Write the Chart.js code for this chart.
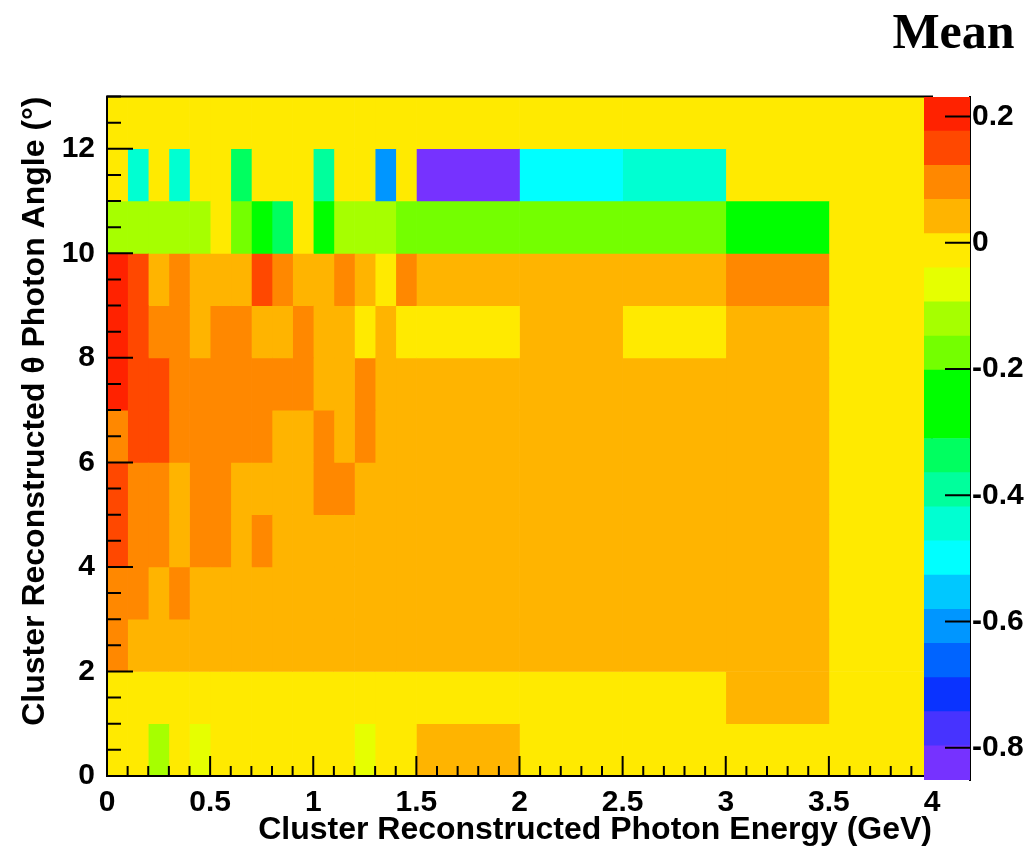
<!DOCTYPE html>
<html>
<head>
<meta charset="utf-8">
<script src="https://cdn.jsdelivr.net/npm/chart.js@4.4.0/dist/chart.umd.min.js"></script>
<style>
  html, body { margin: 0; padding: 0; background: #fff; }
  #wrap { position: relative; width: 1035px; height: 846px; }
  #heat { position: absolute; left: 0; top: 0; }
  #palette { position: absolute; left: 872px; top: 0; }
</style>
</head>
<body>
<div id="wrap">
  <canvas id="heat" width="1035" height="846"></canvas>
  <canvas id="palette" width="163" height="846"></canvas>
</div>
<script>
// bin edges (GeV and degrees)
const energyEdges = [0, 0.1, 0.2, 0.3, 0.4, 0.5, 0.6, 0.7, 0.8, 0.9, 1.0, 1.1, 1.2, 1.3, 1.4, 1.5, 2.0, 2.5, 3.0, 3.5, 4.0];
const angleEdges = [0, 1, 2, 3, 4, 5, 6, 7, 8, 9, 10, 11, 12, 13];

// mean per cell, one row per angle bin (bottom row first)
const meanByAngle = [
  [0, 0, -0.12, 0, -0.07, 0, 0, 0, 0, 0, 0, 0, -0.07, 0, 0, 0.04, 0, 0, 0, 0],
  [0, 0, 0, 0, 0, 0, 0, 0, 0, 0, 0, 0, 0, 0, 0, 0, 0, 0, 0.04, 0],
  [0.1, 0.04, 0.04, 0.04, 0.04, 0.04, 0.04, 0.04, 0.04, 0.04, 0.04, 0.04, 0.04, 0.04, 0.04, 0.04, 0.04, 0.04, 0.04, 0],
  [0.1, 0.1, 0.04, 0.1, 0.04, 0.04, 0.04, 0.04, 0.04, 0.04, 0.04, 0.04, 0.04, 0.04, 0.04, 0.04, 0.04, 0.04, 0.04, 0],
  [0.15, 0.1, 0.1, 0.04, 0.1, 0.1, 0.04, 0.1, 0.04, 0.04, 0.04, 0.04, 0.04, 0.04, 0.04, 0.04, 0.04, 0.04, 0.04, 0],
  [0.15, 0.1, 0.1, 0.04, 0.1, 0.1, 0.04, 0.04, 0.04, 0.04, 0.1, 0.1, 0.04, 0.04, 0.04, 0.04, 0.04, 0.04, 0.04, 0],
  [0.1, 0.15, 0.15, 0.1, 0.1, 0.1, 0.1, 0.1, 0.04, 0.04, 0.1, 0.04, 0.1, 0.04, 0.04, 0.04, 0.04, 0.04, 0.04, 0],
  [0.2, 0.15, 0.15, 0.1, 0.1, 0.1, 0.1, 0.1, 0.1, 0.1, 0.04, 0.04, 0.1, 0.04, 0.04, 0.04, 0.04, 0.04, 0.04, 0],
  [0.2, 0.15, 0.1, 0.1, 0.04, 0.1, 0.1, 0.04, 0.04, 0.1, 0.04, 0.04, 0, 0.04, 0, 0, 0.04, 0, 0.04, 0],
  [0.2, 0.15, 0.04, 0.1, 0.04, 0.04, 0.04, 0.15, 0.1, 0.04, 0.04, 0.1, 0.04, 0, 0.1, 0.04, 0.04, 0.04, 0.1, 0],
  [-0.12, -0.12, -0.12, -0.12, -0.12, 0, -0.17, -0.25, -0.34, 0, -0.25, -0.12, -0.12, -0.12, -0.17, -0.17, -0.17, -0.17, -0.25, 0],
  [0, -0.45, 0, -0.45, 0, 0, -0.34, 0, 0, 0, -0.39, 0, 0, -0.61, 0, -0.82, -0.5, -0.45, 0, 0],
  [0, 0, 0, 0, 0, 0, 0, 0, 0, 0, 0, 0, 0, 0, 0, 0, 0, 0, 0, 0]
];

const energyTicks = [0, 0.5, 1, 1.5, 2, 2.5, 3, 3.5, 4];
const angleTicks = [0, 2, 4, 6, 8, 10, 12];

// colour scale (20 contours)
const zMin = -0.851;
const zMax = 0.231;
const paletteTicks = [-0.8, -0.6, -0.4, -0.2, 0, 0.2];
const paletteColors = [
  "#7632ff", "#4733ff", "#0a33ff", "#0064ff", "#0096ff",
  "#00c8ff", "#00ffff", "#00ffd2", "#00ff9c", "#00ff60",
  "#00ff00", "#00ff00", "#74ff00", "#a6ff00", "#e6ff00",
  "#ffea00", "#ffb400", "#ff8800", "#ff4800", "#ff2200"
];

const zStep = (zMax - zMin) / paletteColors.length;

function colorFor(v) {
  let i = Math.floor((v - zMin) / zStep);
  if (i < 0) i = 0;
  if (i > paletteColors.length - 1) i = paletteColors.length - 1;
  return paletteColors[i];
}

const sansBold = (size) => ({ family: "'Liberation Sans', Arial, sans-serif", size: size, weight: "bold" });

const columns = energyEdges.slice(0, -1).map((lo, ci) => ({
  data: meanByAngle.map((row, ri) => ({
    x: [lo, energyEdges[ci + 1]],
    y: (angleEdges[ri] + angleEdges[ri + 1]) / 2,
    v: row[ci]
  })),
  backgroundColor: (c) => colorFor(c.raw.v),
  borderWidth: 0,
  grouped: false,
  barPercentage: 1,
  categoryPercentage: 1
}));

// ROOT-like frame with ticks pointing inward
const rootFrame = {
  id: "rootFrame",
  afterDatasetsDraw(chart) {
    const { ctx, chartArea: a, scales } = chart;
    const x = scales.x, y = scales.y;
    ctx.save();
    ctx.strokeStyle = "#000";
    ctx.lineWidth = 2;
    ctx.beginPath();
    for (let k = 0; k <= 40; k++) {
      const px = x.getPixelForValue(k / 10);
      const len = k % 5 === 0 ? 20 : 10;
      ctx.moveTo(px, a.bottom);
      ctx.lineTo(px, a.bottom - len);
    }
    for (let k = 0; k <= 26; k++) {
      const py = y.getPixelForValue(k / 2);
      const len = k % 4 === 0 ? 26 : 14;
      ctx.moveTo(a.left, py);
      ctx.lineTo(a.left + len, py);
    }
    ctx.stroke();
    ctx.strokeRect(a.left, a.top, a.right - a.left, a.bottom - a.top);
    ctx.restore();
  }
};

new Chart(document.getElementById("heat"), {
  type: "bar",
  data: { datasets: columns },
  options: {
    indexAxis: "y",
    responsive: false,
    animation: false,
    devicePixelRatio: 1,
    layout: { padding: { top: 96.5, right: 103, bottom: 0, left: 0 } },
    plugins: { legend: { display: false }, tooltip: { enabled: false } },
    scales: {
      x: {
        type: "linear",
        min: 0,
        max: 4,
        offset: false,
        grid: { display: false, drawTicks: false },
        border: { display: false },
        afterBuildTicks: (s) => { s.ticks = energyTicks.map((v) => ({ value: v })); },
        afterFit: (s) => { s.height = 70; },
        ticks: { color: "#000", font: sansBold(30), padding: 9, maxRotation: 0, autoSkip: false, callback: (v) => String(v) },
        title: { display: true, text: "Cluster Reconstructed Photon Energy (GeV)", align: "end", color: "#000", font: sansBold(32), padding: { top: 0, bottom: -3 } }
      },
      y: {
        type: "linear",
        min: 0,
        max: 13,
        offset: false,
        grid: { display: false, drawTicks: false, offset: false },
        border: { display: false },
        afterBuildTicks: (s) => { s.ticks = angleTicks.map((v) => ({ value: v })); },
        afterFit: (s) => { s.width = 107; },
        ticks: { color: "#000", font: sansBold(30), padding: 12, autoSkip: false, callback: (v) => String(v) },
        title: { display: true, text: "Cluster Reconstructed \u03b8 Photon Angle (\u00b0)", align: "end", color: "#000", font: sansBold(32), padding: { top: 16, bottom: 0 } }
      }
    }
  },
  plugins: [rootFrame]
});

// colour palette on the right
const paletteBands = paletteColors.map((c, i) => ({
  data: [[zMin + i * zStep, zMin + (i + 1) * zStep]],
  backgroundColor: c,
  borderWidth: 0,
  grouped: false,
  barPercentage: 1,
  categoryPercentage: 1,
  xAxisID: "x",
  yAxisID: "y"
}));

const paletteTickMarks = {
  id: "paletteTickMarks",
  afterDatasetsDraw(chart) {
    const { ctx, chartArea: a } = chart;
    const z = chart.scales.y;
    ctx.save();
    ctx.strokeStyle = "#000";
    ctx.lineWidth = 2;
    ctx.beginPath();
    paletteTicks.forEach((v) => {
      const py = z.getPixelForValue(v);
      ctx.moveTo(a.right, py);
      ctx.lineTo(a.right - 25, py);
    });
    ctx.stroke();
    ctx.restore();
  }
};

new Chart(document.getElementById("palette"), {
  type: "bar",
  data: { labels: ["Mean"], datasets: paletteBands },
  options: {
    responsive: false,
    animation: false,
    devicePixelRatio: 1,
    layout: { padding: { top: 0, right: 0, bottom: 66, left: 0 } },
    plugins: {
      legend: { display: false },
      tooltip: { enabled: false },
      title: {
        display: true,
        text: "Mean",
        align: "center",
        color: "#000",
        font: { family: "'Liberation Serif', 'Times New Roman', serif", size: 50, weight: "bold" },
        padding: { top: 5, bottom: 32 }
      }
    },
    scales: {
      x: { type: "category", display: false },
      y: {
        type: "linear",
        position: "right",
        min: zMin,
        max: zMax,
        grid: { display: false, drawTicks: false },
        border: { display: true, color: "#000", width: 2 },
        afterBuildTicks: (s) => { s.ticks = paletteTicks.map((v) => ({ value: v })); },
        afterFit: (s) => { s.width = 65; },
        ticks: { color: "#000", font: sansBold(30), padding: 2, callback: (v) => String(Math.round(v * 10) / 10) }
      },
      gap: {
        type: "linear",
        position: "left",
        display: true,
        grid: { display: false, drawTicks: false },
        border: { display: false },
        ticks: { display: false },
        afterFit: (s) => { s.width = 52; }
      }
    }
  },
  plugins: [paletteTickMarks]
});
</script>
</body>
</html>
